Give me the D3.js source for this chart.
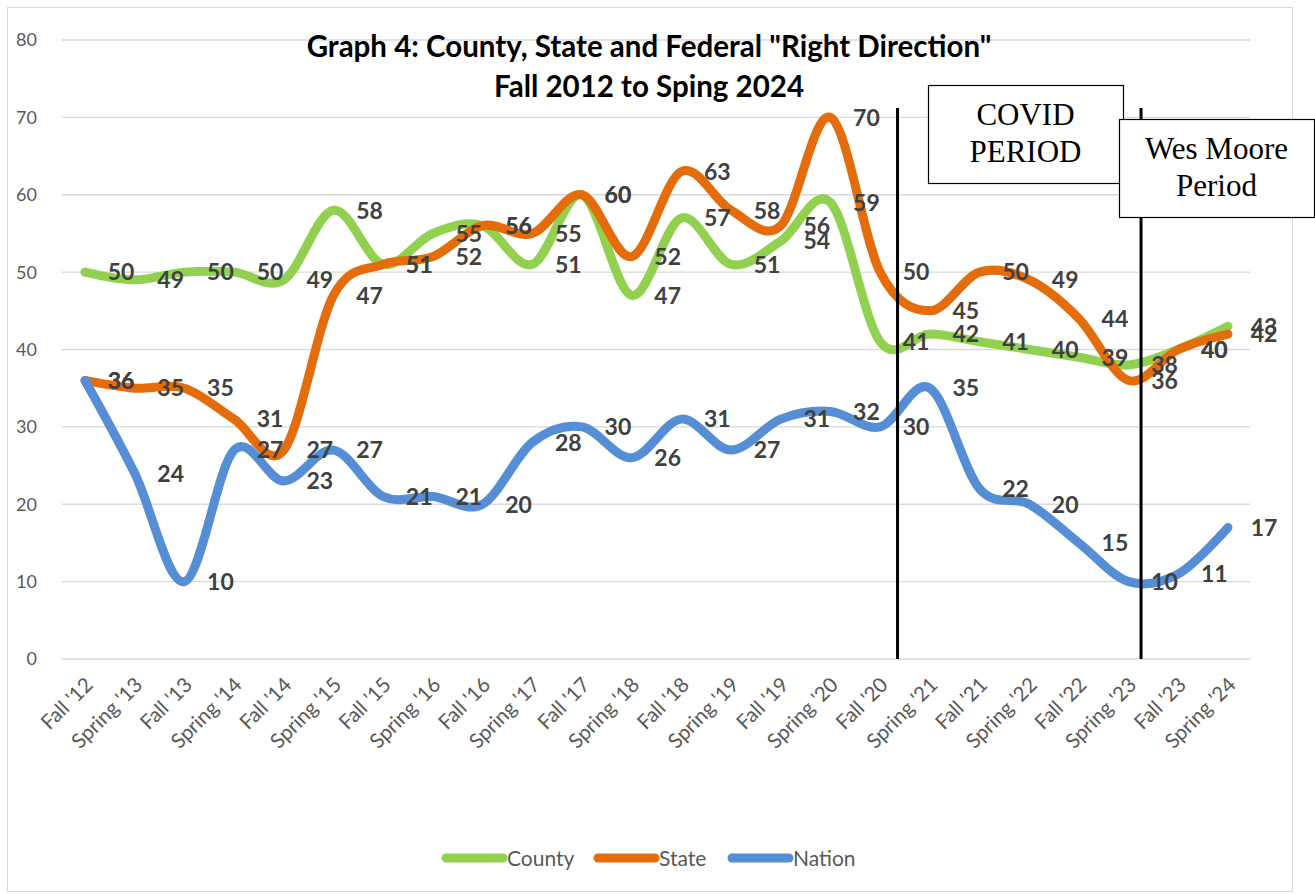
<!DOCTYPE html>
<html>
<head>
<meta charset="utf-8">
<script src="https://cdn.jsdelivr.net/npm/d3@7"></script>
<style>
	body { margin: 0; background: #fff; }
	text { font-family: Lato, "Noto Sans", sans-serif; }
</style>
</head>
<body>
<div id="chart"></div>
<script>
// survey waves on the x axis
var periods = ["Fall '12", "Spring '13", "Fall '13", "Spring '14", "Fall '14", "Spring '15",
	"Fall '15", "Spring '16", "Fall '16", "Spring '17", "Fall '17", "Spring '18",
	"Fall '18", "Spring '19", "Fall '19", "Spring '20", "Fall '20", "Spring '21",
	"Fall '21", "Spring '22", "Fall '22", "Spring '23", "Fall '23", "Spring '24"];

// "right direction" percentages
var county = [50, 49, 50, 50, 49, 58, 51, 55, 56, 51, 60, 47, 57, 51, 54, 59, 41, 42, 41, 40, 39, 38, 40, 43];
var state = [36, 35, 35, 31, 27, 47, 51, 52, 56, 55, 60, 52, 63, 58, 56, 70, 50, 45, 50, 49, 44, 36, 40, 42];
var nation = [36, 24, 10, 27, 23, 27, 21, 21, 20, 28, 30, 26, 31, 27, 31, 32, 30, 35, 22, 20, 15, 10, 11, 17];

var seriesNames = ["County", "State", "Nation"];
var yTicks = [0, 10, 20, 30, 40, 50, 60, 70, 80];

// period markers, position given as fractional index between waves
var markerPos = [16.35, 21.25];
var markerText = [["COVID", "PERIOD"], ["Wes Moore", "Period"]];

var COLORS = { "County": "#92D050", "State": "#E46C0A", "Nation": "#558ED5" };
var LABEL_SIZE = 23;

function plotRightDirection(width = 1315, height = 895) {
	const series = [
		{ name: "County", values: county },
		{ name: "State", values: state },
		{ name: "Nation", values: nation }
	];

	const svg = d3.select('#chart')
		.append('svg')
		.attr('width', width)
		.attr('height', height);

	// outer chart border
	svg.append('rect')
		.attr('x', 7.5).attr('y', 7.5)
		.attr('width', 1285).attr('height', 884)
		.attr('fill', '#fff')
		.attr('stroke', '#d9d9d9');

	const x = d3.scaleLinear().domain([0, periods.length - 1]).range([85, 1228]);
	const y = d3.scaleLinear().domain([0, 80]).range([659, 40]);

	// horizontal grid
	svg.append('g')
		.selectAll('line')
		.data(yTicks)
		.enter()
		.append('line')
		.attr('x1', 62).attr('x2', 1250)
		.attr('y1', d => y(d)).attr('y2', d => y(d))
		.attr('stroke', '#d9d9d9')
		.attr('stroke-width', 1.3);

	// y axis labels
	svg.append('g')
		.selectAll('text')
		.data(yTicks)
		.enter()
		.append('text')
		.attr('x', 37)
		.attr('y', d => y(d))
		.attr('dy', '0.36em')
		.attr('text-anchor', 'end')
		.attr('fill', '#595959')
		.style('font-size', '18px')
		.text(d => d);

	// x axis labels, rotated
	svg.append('g')
		.selectAll('text')
		.data(periods)
		.enter()
		.append('text')
		.attr('transform', (d, i) => `translate(${x(i) + 4},${681}) rotate(-45)`)
		.attr('text-anchor', 'end')
		.attr('dy', '0.35em')
		.attr('fill', '#595959')
		.style('font-size', '20.5px')
		.text(d => d);

	// smoothed lines, close to Excel's smoothing
	const line = d3.line()
		.x((d, i) => x(i))
		.y(d => y(d))
		.curve(d3.curveCardinal.tension(0));

	svg.append('g')
		.selectAll('path')
		.data(series)
		.enter()
		.append('path')
		.attr('d', d => line(d.values))
		.attr('fill', 'none')
		.attr('stroke', d => COLORS[d.name])
		.attr('stroke-width', 9)
		.attr('stroke-linecap', 'round')
		.attr('stroke-linejoin', 'round');

	// data labels to the right of each point
	const labels = svg.append('g');
	series.forEach(s => {
		labels.append('g')
			.selectAll('text')
			.data(s.values)
			.enter()
			.append('text')
			.attr('x', (d, i) => x(i) + 36)
			.attr('y', d => y(d))
			.attr('dy', '0.36em')
			.attr('text-anchor', 'middle')
			.attr('fill', '#404040')
			.style('font-size', `${LABEL_SIZE}px`)
			.style('font-weight', 'bold')
			.text(d => d);
	});

	// period marker lines
	svg.append('g')
		.selectAll('line')
		.data(markerPos)
		.enter()
		.append('line')
		.attr('x1', d => x(d)).attr('x2', d => x(d))
		.attr('y1', 108).attr('y2', y(0))
		.attr('stroke', '#000')
		.attr('stroke-width', 3);

	// text boxes
	const boxes = [
		{ x: 928, y: 85, w: 195, h: 98, lines: markerText[0] },
		{ x: 1119, y: 119, w: 195, h: 98, lines: markerText[1] }
	];
	boxes.forEach(b => {
		svg.append('rect')
			.attr('x', b.x + 0.5).attr('y', b.y + 0.5)
			.attr('width', b.w).attr('height', b.h)
			.attr('fill', '#fff')
			.attr('stroke', '#000')
			.attr('stroke-width', 1.2);
		b.lines.forEach((t, i) => {
			svg.append('text')
				.attr('x', b.x + b.w / 2)
				.attr('y', b.y + 40 + i * 37)
				.attr('text-anchor', 'middle')
				.attr('fill', '#000')
				.style('font-family', '"Liberation Serif", "DejaVu Serif", serif')
				.style('font-size', '31px')
				.text(t);
		});
	});

	// Title
	svg.append('text')
		.attr('x', 649)
		.attr('y', 57)
		.attr('text-anchor', 'middle')
		.style('font-size', '29.5px')
		.style('font-weight', 'bold')
		.text('Graph 4: County, State and Federal "Right Direction"');
	svg.append('text')
		.attr('x', 649)
		.attr('y', 97)
		.attr('text-anchor', 'middle')
		.style('font-size', '29.5px')
		.style('font-weight', 'bold')
		.text('Fall 2012 to Sping 2024');

	// legend
	const legendX = [446, 598, 732];
	const legend = svg.append('g');
	legend.selectAll('line')
		.data(seriesNames)
		.enter()
		.append('line')
		.attr('x1', (d, i) => legendX[i])
		.attr('x2', (d, i) => legendX[i] + 57)
		.attr('y1', 858).attr('y2', 858)
		.attr('stroke', d => COLORS[d])
		.attr('stroke-width', 9)
		.attr('stroke-linecap', 'round');
	legend.selectAll('text')
		.data(seriesNames)
		.enter()
		.append('text')
		.attr('x', (d, i) => legendX[i] + 61)
		.attr('y', 858)
		.attr('dy', '0.36em')
		.attr('fill', '#595959')
		.style('font-size', '21px')
		.text(d => d);
}

plotRightDirection();
</script>
</body>
</html>
